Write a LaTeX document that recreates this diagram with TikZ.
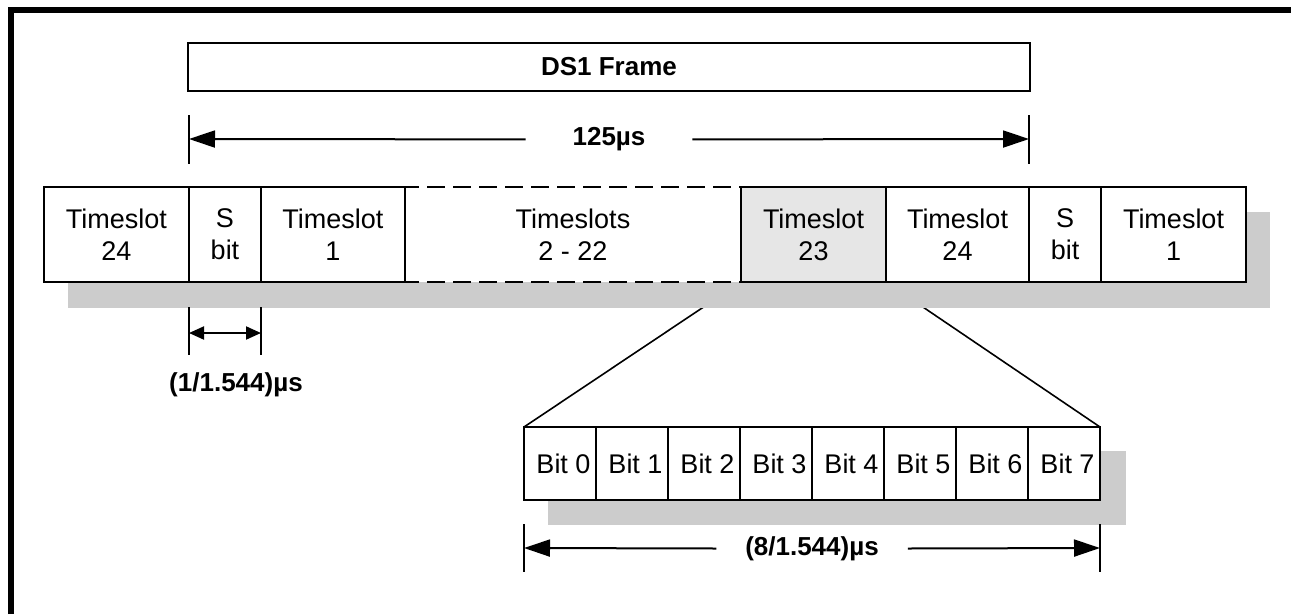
\documentclass[tikz,border=0pt]{standalone}
\usepackage{fontspec}
\setmainfont{Liberation Sans}
\usetikzlibrary{arrows.meta}
\pgfdeclarelayer{bg}
\pgfdeclarelayer{shade}
\pgfsetlayers{bg,shade,main}
\definecolor{shadowgray}{HTML}{CCCCCC}
\definecolor{slotgray}{HTML}{E6E6E6}
\begin{document}
\begin{tikzpicture}[x=1pt,y=-1pt,
  cell/.style={draw, line width=2pt, fill=white, inner sep=0pt, outer sep=0pt, align=center,
    minimum height=95pt, font=\fontsize{27pt}{32pt}\selectfont},
  bitcell/.style={draw, line width=2pt, fill=white, inner sep=0pt, outer sep=0pt,
    minimum height=73pt, minimum width=72pt, font=\fontsize{27pt}{32pt}\selectfont},
  lbl/.style={font=\bfseries\fontsize{26pt}{30pt}\selectfont, inner ysep=0pt, outer sep=0pt},
  dim/.style={line width=2pt, -{Triangle[length=26pt,width=17pt]}},
  smalldim/.style={line width=2pt, {Triangle[length=15pt,width=13pt]}-{Triangle[length=15pt,width=13pt]}},
  tick/.style={line width=2pt},
  shadow/.style={fill=shadowgray},
  zoomline/.style={line width=1.6pt},
  dashedge/.style={line width=2pt, dash pattern=on 18pt off 8pt, dash phase=4pt},
  frameline/.style={line width=6pt, line join=miter}
]
\useasboundingbox (0,0) rectangle (1291,614);

% outer frame (top and left)
\draw[frameline] (11,614) -- (11,10) -- (1291,10);

% DS1 frame header
\node[cell, minimum width=842pt, minimum height=48pt,
  font=\bfseries\fontsize{26pt}{30pt}\selectfont] (ds1) at (609,67) {DS1 Frame};

% main timeslot row
\node[cell, draw=none, minimum width=336pt] (ts222) at (573,234.5) {Timeslots\\2 - 22};
\node[cell, minimum width=145pt] (ts24a) at (116.5,234.5) {Timeslot\\24};
\node[cell, minimum width=72pt] (sa) at (225,234.5) {S\\bit};
\node[cell, minimum width=144pt] (ts1a) at (333,234.5) {Timeslot\\1};
\node[cell, fill=slotgray, minimum width=145pt] (ts23) at (813.5,234.5) {Timeslot\\23};
\node[cell, minimum width=143pt] (ts24b) at (957.5,234.5) {Timeslot\\24};
\node[cell, minimum width=72pt] (sb) at (1065,234.5) {S\\bit};
\node[cell, minimum width=145pt] (ts1b) at (1173.5,234.5) {Timeslot\\1};
\draw[dashedge] (ts222.north west) -- (ts222.north east);
\draw[dashedge] (ts222.south west) -- (ts222.south east);

% bit row
\foreach \i in {0,...,7}
  \node[bitcell] (b\i) at ({560+72*\i},463.5) {\hspace*{7pt}Bit \i};

% shadows
\begin{pgfonlayer}{shade}
  \fill[shadow] ([shift={(24,25)}]ts24a.north west) rectangle ([shift={(24,26)}]ts1b.south east);
  \fill[shadow] ([shift={(24,24)}]b0.north west) rectangle ([shift={(26,25)}]b7.south east);
\end{pgfonlayer}

% zoom lines (behind shadow)
\begin{pgfonlayer}{bg}
  \draw[zoomline] (ts23.south west) -- (b0.north west);
  \draw[zoomline] (ts23.south east) -- (b7.north east);
\end{pgfonlayer}

% 125 us dimension
\path (sa.north west) ++(0,-48) coordinate (p125L);
\path (sb.north west) ++(0,-48) coordinate (p125R);
\draw[tick] (p125L) ++(0,-24) -- ++(0,49);
\draw[tick] (p125R) ++(0,-24) -- ++(0,49);
\node[lbl, inner xsep=47pt] (t125) at (609,139.4) {125µs};
\draw[dim] (t125.west) -- (p125L);
\draw[dim] (t125.east) -- (p125R);

% S bit dimension
\path (sa.south west) ++(0,51) coordinate (psL);
\path (sa.south east) ++(0,51) coordinate (psR);
\draw[tick] (psL) ++(0,-26) -- ++(0,48);
\draw[tick] (psR) ++(0,-26) -- ++(0,48);
\draw[smalldim] (psL) -- (psR);
\node[lbl, inner xsep=0pt] (t1544) at (236,385) {(1/1.544)µs};

% 8 bits dimension
\path (b0.south west) ++(0,48) coordinate (p8L);
\path (b7.south east) ++(0,48) coordinate (p8R);
\draw[tick] (p8L) ++(0,-24) -- ++(0,48);
\draw[tick] (p8R) ++(0,-24) -- ++(0,48);
\node[lbl, inner xsep=29pt] (t8) at (812,548.5) {(8/1.544)µs};
\draw[dim] (t8.west) -- (p8L);
\draw[dim] (t8.east) -- (p8R);
\end{tikzpicture}
\end{document}
